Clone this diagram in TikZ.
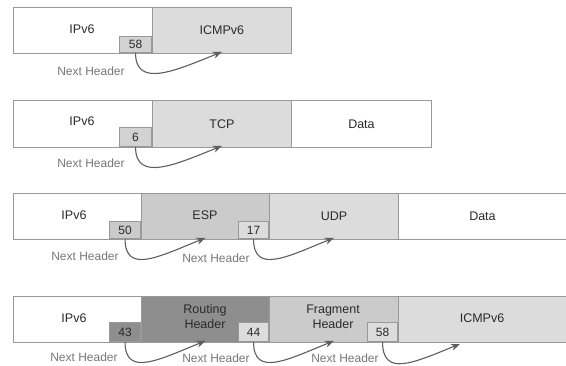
\documentclass[tikz,border=0pt]{standalone}
\usepackage{fontspec}
\setmainfont{Liberation Sans}
\usetikzlibrary{arrows.meta}
\definecolor{bordc}{HTML}{999999}
\definecolor{txtc}{HTML}{2A2A2A}
\definecolor{lblc}{HTML}{777777}
\definecolor{arrc}{HTML}{5E5E5E}
\definecolor{lightg}{HTML}{DCDCDC}
\definecolor{midg}{HTML}{CBCBCB}
\definecolor{darkg}{HTML}{8E8E8E}
\tikzset{
  cell/.style={draw=bordc, line width=0.9pt, rectangle, inner sep=0pt, anchor=north west,
    text=txtc, font=\fontsize{12.5}{15}\selectfont, align=center},
  lbl/.style={text=txtc, font=\fontsize{12.5}{15}\selectfont, align=center, inner sep=0pt},
  numbox/.style={draw=bordc, line width=0.9pt, rectangle, inner sep=0pt, anchor=south east,
    text=txtc, font=\fontsize{12}{14}\selectfont, minimum width=32pt},
  nh/.style={text=lblc, font=\fontsize{12}{14}\selectfont, inner sep=0pt},
  arr/.style={draw=arrc, line width=1.1pt, -{Stealth[length=9pt,width=7pt]}},
}
\begin{document}
\begin{tikzpicture}[x=1pt,y=-1pt]
\useasboundingbox (0,0) rectangle (566,365);
% Row 1
\node[cell, fill=white, minimum width=139pt, minimum height=46pt] (r1a) at (13,7) {};
\node[lbl] (r1at) at (82,29) {IPv6};
\node[cell, fill=lightg, minimum width=139pt, minimum height=46pt] (r1b) at (152,7) {ICMPv6};
\node[numbox, fill=midg!60!lightg, minimum height=16pt] (r1n) at (152,53) {58};
\node[nh] (r1l) at (91,71) {Next Header};
\draw[arr] (r1n.south) .. controls +(0,36) and +(-45,18) .. ([yshift=2pt]r1b.south);
% Row 2
\node[cell, fill=white, minimum width=139pt, minimum height=47pt] (r2a) at (13,100) {};
\node[lbl] (r2at) at (82,121) {IPv6};
\node[cell, fill=lightg, minimum width=139pt, minimum height=47pt] (r2b) at (152,100) {TCP};
\node[cell, fill=white, minimum width=140pt, minimum height=47pt] (r2c) at (291,100) {Data};
\node[numbox, fill=midg!60!lightg, minimum height=19pt] (r2n) at (152,147) {6};
\node[nh] (r2l) at (91,163) {Next Header};
\draw[arr] (r2n.south) .. controls +(0,36) and +(-45,18) .. ([yshift=2pt]r2b.south);
% Row 3
\node[cell, fill=white, minimum width=128pt, minimum height=46pt] (r3a) at (13,193) {};
\node[lbl] (r3at) at (74,215) {IPv6};
\node[cell, fill=midg, minimum width=128pt, minimum height=46pt] (r3b) at (141,193) {};
\node[lbl] (r3bt) at (205,215) {ESP};
\node[cell, fill=lightg, minimum width=129pt, minimum height=46pt] (r3c) at (269,193) {UDP};
\node[cell, fill=white, minimum width=168pt, minimum height=46pt] (r3d) at (398,193) {Data};
\node[numbox, fill=midg, minimum width=31pt, minimum height=17pt] (r3n1) at (141,239) {50};
\node[numbox, fill=lightg, minimum width=30pt, minimum height=17pt] (r3n2) at (269,239) {17};
\node[nh] (r3l1) at (85,256) {Next Header};
\node[nh] (r3l2) at (216,258) {Next Header};
\draw[arr] (r3n1.south) .. controls +(0,36) and +(-45,18) .. ([yshift=2pt]r3b.south);
\draw[arr] (r3n2.south) .. controls +(0,36) and +(-45,18) .. ([yshift=2pt]r3c.south);
% Row 4
\node[cell, fill=white, minimum width=128pt, minimum height=46pt] (r4a) at (13,296) {};
\node[lbl] (r4at) at (74,318) {IPv6};
\node[cell, fill=darkg, minimum width=128pt, minimum height=46pt] (r4b) at (141,296) {};
\node[lbl] (r4bt) at (205,317) {Routing\\Header};
\node[cell, fill=midg, minimum width=129pt, minimum height=46pt] (r4c) at (269,296) {};
\node[lbl] (r4ct) at (333,317) {Fragment\\Header};
\node[cell, fill=lightg, minimum width=168pt, minimum height=46pt] (r4d) at (398,296) {};
\node[lbl] (r4dt) at (482,318) {ICMPv6};
\coordinate (r4tip) at (460,344);
\node[numbox, fill=darkg, minimum width=31pt, minimum height=19pt] (r4n1) at (141,342) {43};
\node[numbox, fill=lightg, minimum width=30pt, minimum height=19pt] (r4n2) at (269,342) {44};
\node[numbox, fill=lightg, minimum width=30pt, minimum height=19pt] (r4n3) at (398,342) {58};
\node[nh] (r4l1) at (84,357) {Next Header};
\node[nh] (r4l2) at (216,358) {Next Header};
\node[nh] (r4l3) at (345,358) {Next Header};
\draw[arr] (r4n1.south) .. controls +(0,36) and +(-45,18) .. ([yshift=2pt]r4b.south);
\draw[arr] (r4n2.south) .. controls +(0,36) and +(-45,18) .. ([yshift=2pt]r4c.south);
\draw[arr] (r4n3.south) .. controls +(0,36) and +(-45,18) .. (r4tip);
\end{tikzpicture}
\end{document}
